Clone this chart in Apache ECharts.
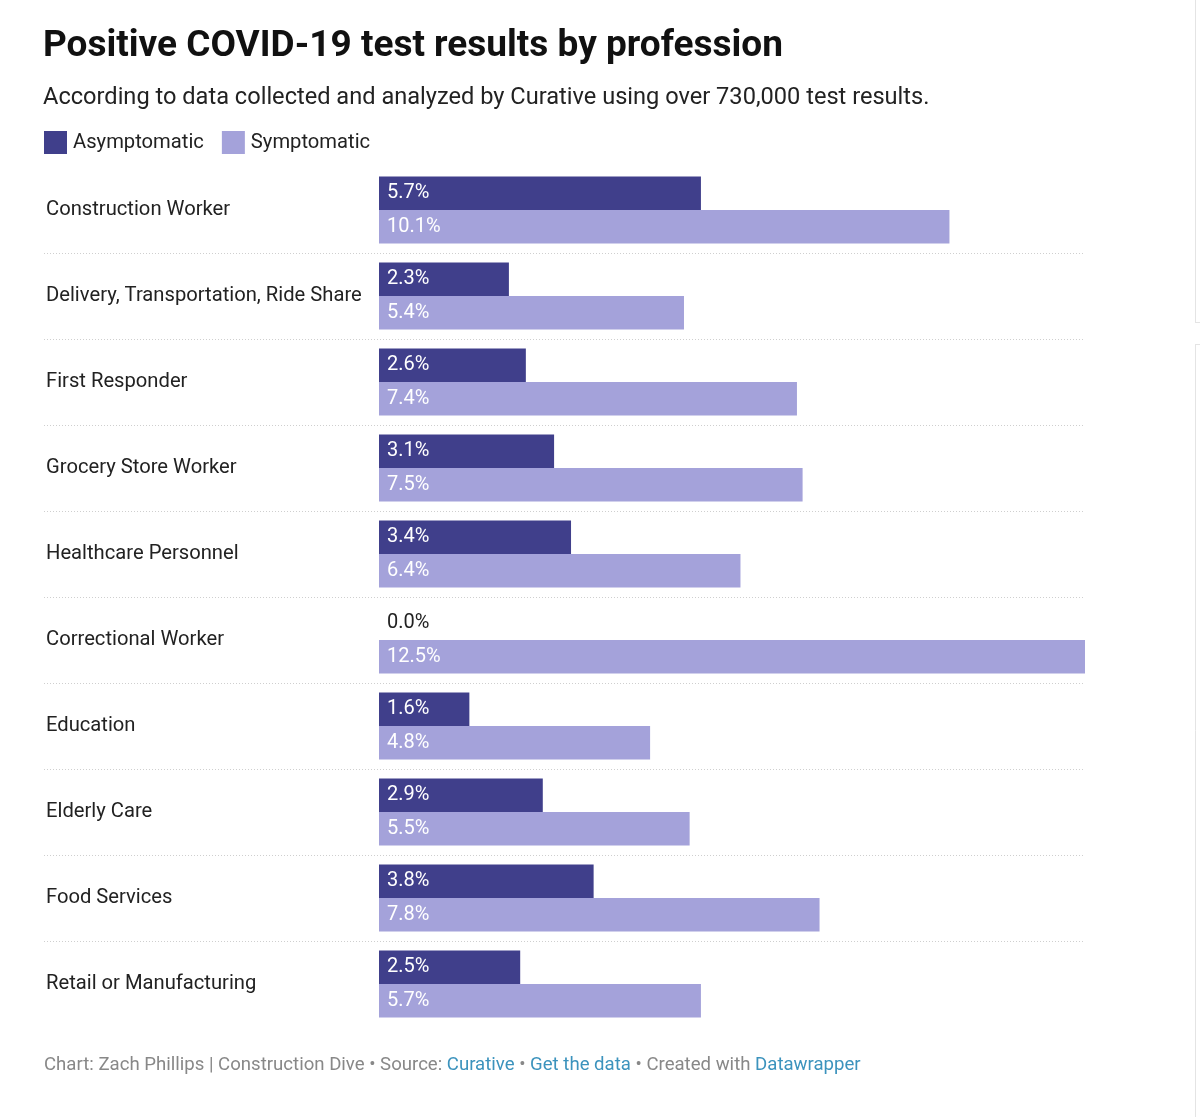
<!DOCTYPE html>
<html>
<head>
<meta charset="utf-8">
<script src="https://cdn.jsdelivr.net/npm/echarts@6/dist/echarts.min.js"></script>
<style>
  html, body { margin: 0; padding: 0; background: #fff; }
  #main { width: 1200px; height: 1117px; }
</style>
</head>
<body>
<div id="main"></div>
<script>
// professions, top to bottom
const professions = [
  'Construction Worker',
  'Delivery, Transportation, Ride Share',
  'First Responder',
  'Grocery Store Worker',
  'Healthcare Personnel',
  'Correctional Worker',
  'Education',
  'Elderly Care',
  'Food Services',
  'Retail or Manufacturing'
];
// share of positive tests, %
const asymptomatic = [5.7, 2.3, 2.6, 3.1, 3.4, 0.0, 1.6, 2.9, 3.8, 2.5];
const symptomatic = [10.1, 5.4, 7.4, 7.5, 6.4, 12.5, 4.8, 5.5, 7.8, 5.7];

const DARK = '#403f8b';
const LIGHT = '#a4a2da';
const FONT = 'Roboto, "Noto Sans", sans-serif';

const chartDom = document.getElementById('main');
const myChart = echarts.init(chartDom);

// zero-width bars get their label in dark text instead of white
const withLabels = (arr) => arr.map(v => ({
  value: v,
  label: v === 0 ? { color: '#222' } : undefined
}));

const labelStyle = {
  show: true,
  position: 'insideLeft',
  distance: 8,
  color: '#fff',
  fontFamily: FONT,
  fontSize: 20,
  padding: [3, 0, 0, 0],
  formatter: (p) => p.value.toFixed(1) + '%'
};

const option = {
  backgroundColor: '#fff',
  animation: false,
  title: [
    {
      text: 'Positive COVID-19 test results by profession',
      left: 43,
      top: 28,
      padding: 0,
      textStyle: { fontFamily: FONT, fontWeight: 'bold', fontSize: 37, color: '#111' }
    },
    {
      text: 'According to data collected and analyzed by Curative using over 730,000 test results.',
      left: 43,
      top: 86,
      padding: 0,
      textStyle: { fontFamily: FONT, fontWeight: 'normal', fontSize: 23.6, color: '#222' }
    },
    {
      text: '{g|Chart: Zach Phillips | Construction Dive • Source: }{b|Curative}{g| • }{b|Get the data}{g| • Created with }{b|Datawrapper}',
      left: 44,
      top: 1056,
      padding: 0,
      textStyle: {
        fontFamily: FONT,
        fontWeight: 'normal',
        fontSize: 18.6,
        rich: {
          g: { fontFamily: FONT, fontSize: 18.6, color: '#888' },
          b: { fontFamily: FONT, fontSize: 18.6, color: '#3c93bd' }
        }
      }
    }
  ],
  legend: {
    left: 44,
    top: 131,
    padding: 0,
    itemWidth: 23,
    itemHeight: 23,
    itemGap: 18,
    icon: 'rect',
    textStyle: { fontFamily: FONT, fontSize: 20.2, color: '#222', padding: [2, 0, 0, 1] },
    data: ['Asymptomatic', 'Symptomatic']
  },
  grid: {
    left: 379,
    right: 115,
    top: 167,
    height: 860,
    containLabel: false
  },
  xAxis: {
    type: 'value',
    min: 0,
    max: 12.5,
    show: false
  },
  yAxis: {
    type: 'category',
    inverse: true,
    data: professions,
    axisLine: { show: false },
    axisTick: { show: false },
    splitLine: { show: false },
    axisLabel: {
      align: 'left',
      margin: 333,
      fontFamily: FONT,
      fontSize: 20.2,
      color: '#222',
      padding: [7, 0, 0, 0]
    }
  },
  series: [
    {
      name: 'Asymptomatic',
      type: 'bar',
      data: withLabels(asymptomatic),
      itemStyle: { color: DARK },
      barGap: '0%',
      barCategoryGap: '22%',
      label: labelStyle
    },
    {
      name: 'Symptomatic',
      type: 'bar',
      data: withLabels(symptomatic),
      itemStyle: { color: LIGHT },
      barGap: '0%',
      barCategoryGap: '22%',
      label: labelStyle
    }
  ]
};

myChart.setOption(option);

// dotted separators between rows, placed from the axis scale
const yCenters = professions.map((p, i) => myChart.convertToPixel({ yAxisIndex: 0 }, i));
const xEnd = myChart.convertToPixel({ xAxisIndex: 0 }, 12.5);
const separators = [];
for (let i = 1; i < yCenters.length; i++) {
  const y = Math.round((yCenters[i - 1] + yCenters[i]) / 2) + 0.5;
  separators.push({
    type: 'line',
    shape: { x1: 44, y1: y, x2: xEnd, y2: y },
    style: { stroke: '#cfcfcf', lineWidth: 1, lineDash: [1, 2] },
    silent: true
  });
}
// faint page frame at the right edge
separators.push(
  { type: 'line', shape: { x1: 1195.5, y1: 0, x2: 1195.5, y2: 322 }, style: { stroke: '#e4e4e4', lineWidth: 1 }, silent: true },
  { type: 'line', shape: { x1: 1195, y1: 322.5, x2: 1200, y2: 322.5 }, style: { stroke: '#e4e4e4', lineWidth: 1 }, silent: true },
  { type: 'line', shape: { x1: 1195, y1: 344.5, x2: 1200, y2: 344.5 }, style: { stroke: '#e4e4e4', lineWidth: 1 }, silent: true },
  { type: 'line', shape: { x1: 1195.5, y1: 344, x2: 1195.5, y2: 1117 }, style: { stroke: '#e4e4e4', lineWidth: 1 }, silent: true }
);
myChart.setOption({ graphic: separators });
</script>
</body>
</html>
